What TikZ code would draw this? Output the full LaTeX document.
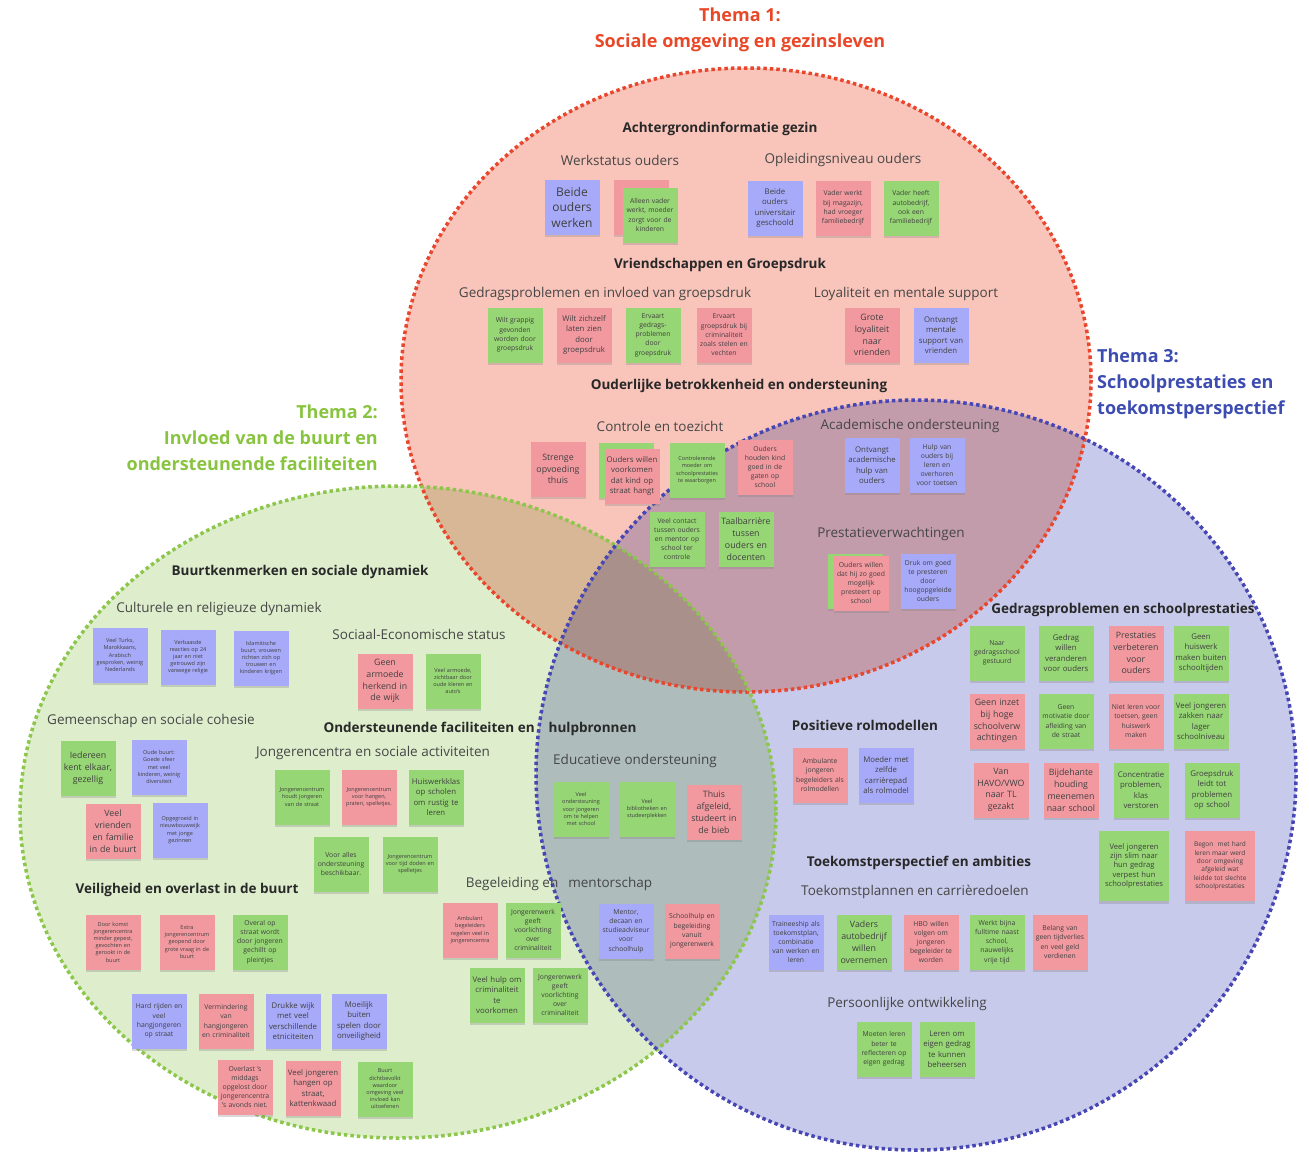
\documentclass[tikz,border=0pt]{standalone}
\usepackage{fontspec}
\setmainfont{Open Sans}
\usetikzlibrary{shadows}
\definecolor{nb}{RGB}{166,170,248}
\definecolor{np}{RGB}{242,153,160}
\definecolor{ng}{RGB}{150,214,116}
\definecolor{notetxt}{RGB}{64,64,64}
\definecolor{headc}{RGB}{40,40,40}
\definecolor{subc}{RGB}{70,70,70}
\definecolor{thafill}{RGB}{249,197,187}
\definecolor{thbfill}{RGB}{222,238,205}
\definecolor{thcfill}{RGB}{200,202,235}
\definecolor{thaline}{RGB}{232,70,45}
\definecolor{thbline}{RGB}{140,198,75}
\definecolor{thcline}{RGB}{70,70,180}
\definecolor{thatxt}{RGB}{232,72,40}
\definecolor{thbtxt}{RGB}{136,196,64}
\definecolor{thctxt}{RGB}{60,76,176}
\newcommand\ftny{\fontsize{5.5}{7.2}\selectfont}
\newcommand\fsml{\fontsize{6.8}{9.2}\selectfont}
\newcommand\fmed{\fontsize{7.8}{10.5}\selectfont}
\newcommand\fmid{\fontsize{8.8}{11.8}\selectfont}
\newcommand\fbig{\fontsize{12}{15.5}\selectfont}
\newcommand\fwid{\fontsize{7.6}{9.2}\selectfont}
\newcommand\fwtn{\fontsize{6.5}{8.4}\selectfont}
\begin{document}
\begin{tikzpicture}[x=1pt, y=-1pt,
    note/.style={minimum width=55pt, minimum height=55pt, text width=51pt, inner sep=0pt,
        align=center, text=notetxt,
        drop shadow={shadow xshift=0pt, shadow yshift=-2.5pt, opacity=.3}},
    bignote/.style={note, minimum width=70pt, minimum height=70pt, text width=66pt},
    rim/.style={line width=3.5pt, dash pattern=on 3.5pt off 3pt},
    head/.style={font=\bfseries\fontsize{13.5}{16}\selectfont, text=headc, inner sep=0pt},
    sub/.style={font=\fontsize{13.5}{16}\selectfont, text=subc, inner sep=0pt},
    theme/.style={font=\bfseries\fontsize{18}{26}\selectfont, inner sep=0pt}]
\useasboundingbox (0,0) rectangle (1309,1164);

\begin{scope}[blend group=multiply]
    \fill[thafill] (746,380) ellipse [x radius=345, y radius=312];
    \fill[thbfill] (398,812) ellipse [x radius=378, y radius=326];
    \fill[thcfill] (916,775) ellipse [x radius=380, y radius=375];
\end{scope}
\draw[rim, thaline] (746,380) ellipse [x radius=345, y radius=312];
\draw[rim, thbline] (398,812) ellipse [x radius=378, y radius=326];
\draw[rim, thcline] (916,775) ellipse [x radius=380, y radius=375];

\node (tha) at (740,30) [theme, text=thatxt, align=center] {Thema 1:\\Sociale omgeving en gezinsleven};
\node (thb) at (378,438) [theme, text=thbtxt, align=right, anchor=east] {Thema 2:\\Invloed van de buurt en\\ondersteunende faciliteiten};
\node (thc) at (1097,384) [theme, text=thctxt, align=left, anchor=west] {Thema 3:\\Schoolprestaties en\\toekomstperspectief};

\foreach \i/\x/\y/\t in {
    hag/720/129/{Achtergrondinformatie gezin},
    hvg/720/265/{Vriendschappen en Groepsdruk},
    hob/739/386/{Ouderlijke betrokkenheid en ondersteuning},
    hbs/300/572/{Buurtkenmerken en sociale dynamiek},
    hof/480/729/{Ondersteunende faciliteiten en\hspace{14pt}hulpbronnen},
    hvo/187/890/{Veiligheid en overlast in de buurt},
    hpr/865/725/{Positieve rolmodellen},
    hgs/1123/610/{Gedragsproblemen en schoolprestaties},
    hta/919/863/{Toekomstperspectief en ambities}}
{
    \node (\i) at (\x,\y) [head] {\t};
}
\foreach \i/\x/\y/\t in {
    sws/620/160/{Werkstatus ouders},
    son/843/160/{Opleidingsniveau ouders},
    sgi/605/294/{Gedragsproblemen en invloed van groepsdruk},
    slm/906/294/{Loyaliteit en mentale support},
    sct/660/426/{Controle en toezicht},
    sao/910/426/{Academische ondersteuning},
    spv/891/534/{Prestatieverwachtingen},
    scr/219/609/{Culturele en religieuze dynamiek},
    sse/419/634/{Sociaal-Economische status},
    sgs/151/721/{Gemeenschap en sociale cohesie},
    sjc/373/753/{Jongerencentra en sociale activiteiten},
    seo/635/761/{Educatieve ondersteuning},
    sbm/559/884/{Begeleiding en\hspace{10pt}mentorschap},
    stp/915/892/{Toekomstplannen en carrièredoelen},
    spo/907/1004/{Persoonlijke ontwikkeling}}
{
    \node (\i) at (\x,\y) [sub] {\t};
}

\node (ws2) at (641,207) [note, fill=np] {};
\node (ct2b) at (626,470) [note, fill=ng] {};
\node (pv1b) at (855,581) [note, fill=ng] {};

\foreach \i/\x/\y/\c/\f/\t in {
    ws1/572/207/nb/\fbig/{Beide\\ouders\\werken},
    ws3/650/215/ng/\fsml/{Alleen vader\\werkt, moeder\\zorgt voor de\\kinderen},
    on1/775/208/nb/\fmed/{Beide\\ouders\\universitair\\geschoold},
    on2/843/208/np/\fsml/{Vader werkt\\bij magazijn,\\had vroeger\\familiebedrijf},
    on3/911/208/ng/\fsml/{Vader heeft\\autobedrijf,\\ook een\\familiebedrijf},
    gp1/515/335/ng/\fsml/{Wilt grappig\\gevonden\\worden door\\groepsdruk},
    gp2/584/335/np/\fmed/{Wilt zichzelf\\laten zien\\door\\groepsdruk},
    gp3/653/335/ng/\fsml/{Ervaart\\gedrags-\\problemen\\door\\groepsdruk},
    gp4/724/335/np/\fsml/{Ervaart\\groepsdruk bij\\criminaliteit\\zoals stelen en\\vechten},
    lm1/872/335/np/\fmid/{Grote\\loyaliteit\\naar\\vrienden},
    lm2/941/335/nb/\fmed/{Ontvangt\\mentale\\support van\\vrienden},
    ct1/558/469/np/\fmid/{Strenge\\opvoeding\\thuis},
    ct2/632/476/np/\fmed/{Ouders willen\\voorkomen\\dat kind op\\straat hangt},
    ct3/697/470/ng/\ftny/{Controlerende\\moeder om\\schoolprestaties\\te waarborgen},
    ct4/765/467/np/\fsml/{Ouders\\houden kind\\goed in de\\gaten op\\school},
    ct5/677/539/ng/\fsml/{Veel contact\\tussen ouders\\en mentor op\\school ter\\controle},
    ct6/746/539/ng/\fmid/{Taalbarrière\\tussen\\ouders en\\docenten},
    ao1/872/465/nb/\fmed/{Ontvangt\\academische\\hulp van\\ouders},
    ao2/937/465/nb/\fsml/{Hulp van\\ouders bij\\leren en\\overhoren\\voor toetsen},
    pv1/861/583/np/\fsml/{Ouders willen\\dat hij zo goed\\mogelijk\\presteert op\\school},
    pv2/928/581/nb/\fsml/{Druk om goed\\te presteren\\door\\hoogopgeleide\\ouders}}
{
    \node (\i) at (\x,\y) [note, fill=\c, font=\f] {\t};
}

\foreach \i/\x/\y/\c/\f/\t in {
    cr1/120/655/nb/\ftny/{Veel Turks,\\Marokkaans,\\Arabisch\\gesproken, weinig\\Nederlands},
    cr2/188/657/nb/\ftny/{Verbaasde\\reacties op 24\\jaar en niet\\getrouwd zijn\\vanwege religie},
    cr3/261/658/nb/\ftny/{Islamitische\\buurt, vrouwen\\richten zich op\\trouwen en\\kinderen krijgen},
    se1/385/681/np/\fmid/{Geen\\armoede\\herkend in\\de wijk},
    se2/453/681/ng/\ftny/{Veel armoede,\\zichtbaar door\\oude kleren en\\auto's},
    gs1/88/768/ng/\fmid/{Iedereen\\kent elkaar,\\gezellig},
    gs2/159/767/nb/\ftny/{Oude buurt:\\Goede sfeer\\met veel\\kinderen, weinig\\diversiteit},
    gs3/113/831/np/\fmid/{Veel\\vrienden\\en familie\\in de buurt},
    gs4/180/830/nb/\ftny/{Opgegroeid in\\nieuwbouwwijk\\met jonge\\gezinnen},
    jc1/302/797/ng/\ftny/{Jongerencentrum\\houdt jongeren\\van de straat},
    jc2/369/797/np/\ftny/{Jongerencentrum\\voor hangen,\\praten, spelletjes.},
    jc3/436/797/ng/\fmed/{Huiswerkklas\\op scholen\\om rustig te\\leren},
    jc4/341/864/ng/\fsml/{Voor alles\\ondersteuning\\beschikbaar.},
    jc5/410/864/ng/\ftny/{Jongerencentrum\\voor tijd doden en\\spelletjes},
    eo1/581/809/ng/\ftny/{Veel\\ondersteuning\\voor jongeren\\om te helpen\\met school},
    eo2/647/809/ng/\ftny/{Veel\\bibliotheken en\\studeerplekken},
    eo3/714/812/np/\fmid/{Thuis\\afgeleid,\\studeert in\\de bieb},
    vo1/113/942/np/\ftny/{Door komst\\jongerencentra\\minder gepest,\\gevochten en\\gerookt in de\\buurt},
    vo2/187/942/np/\ftny/{Extra\\jongerencentrum\\geopend door\\grote vraag in de\\buurt},
    vo3/260/942/ng/\fsml/{Overal op\\straat wordt\\door jongeren\\gechillt op\\pleintjes},
    vo4/159/1021/nb/\fsml/{Hard rijden en\\veel\\hangjongeren\\op straat},
    vo5/226/1021/np/\fsml/{Vermindering\\van\\hangjongeren\\en criminaliteit},
    vo6/293/1021/nb/\fmed/{Drukke wijk\\met veel\\verschillende\\etniciteiten},
    vo7/359/1021/nb/\fmed/{Moeilijk\\buiten\\spelen door\\onveiligheid},
    vo8/245/1087/np/\fsml/{Overlast 's\\middags\\opgelost door\\jongerencentra\\'s avonds niet.},
    vo9/313/1088/np/\fmed/{Veel jongeren\\hangen op\\straat,\\kattenkwaad},
    vo10/385/1089/ng/\ftny/{Buurt\\dichtbevolkt\\waardoor\\omgeving veel\\invloed kan\\uitoefenen},
    bm1/470/930/np/\ftny/{Ambulant\\begeleiders\\regelen veel in\\jongerencentra},
    bm2/533/930/ng/\fsml/{Jongerenwerk\\geeft\\voorlichting\\over\\criminaliteit},
    bm3/497/995/ng/\fmed/{Veel hulp om\\criminaliteit\\te\\voorkomen},
    bm4/560/995/ng/\fsml/{Jongerenwerk\\geeft\\voorlichting\\over\\criminaliteit},
    bm5/626/931/nb/\fsml/{Mentor,\\decaan en\\studieadviseur\\voor\\schoolhulp},
    bm6/692/931/np/\fsml/{Schoolhulp en\\begeleiding\\vanuit\\jongerenwerk}}
{
    \node (\i) at (\x,\y) [note, fill=\c, font=\f] {\t};
}

\foreach \i/\x/\y/\c/\f/\t in {
    rm1/820/775/np/\fsml/{Ambulante\\jongeren\\begeleiders als\\rolmodellen},
    rm2/886/775/nb/\fmed/{Moeder met\\zelfde\\carrièrepad\\als rolmodel},
    sp1/997/653/ng/\fsml/{Naar\\gedragsschool\\gestuurd},
    sp2/1066/653/ng/\fmed/{Gedrag\\willen\\veranderen\\voor ouders},
    sp3/1136/653/np/\fmid/{Prestaties\\verbeteren\\voor\\ouders},
    sp4/1201/653/ng/\fmed/{Geen\\huiswerk\\maken buiten\\schooltijden},
    sp5/997/721/np/\fmid/{Geen inzet\\bij hoge\\schoolverw\\achtingen},
    sp6/1066/721/ng/\fsml/{Geen\\motivatie door\\afleiding van\\de straat},
    sp7/1136/721/np/\fsml/{Niet leren voor\\toetsen, geen\\huiswerk\\maken},
    sp8/1201/721/ng/\fmed/{Veel jongeren\\zakken naar\\lager\\schoolniveau},
    sp9/1001/790/np/\fmid/{Van\\HAVO\slash VWO\\naar TL\\gezakt},
    sp10/1071/790/np/\fmid/{Bijdehante\\houding\\meenemen\\naar school},
    sp11/1141/790/ng/\fmed/{Concentratie\\problemen,\\klas\\verstoren},
    sp12/1212/790/ng/\fmed/{Groepsdruk\\leidt tot\\problemen\\op school},
    tp1/796/942/nb/\fsml/{Traineeship als\\toekomstplan,\\combinatie\\van werken en\\leren},
    tp2/864/942/ng/\fmid/{Vaders\\autobedrijf\\willen\\overnemen},
    tp3/931/942/np/\fsml/{HBO willen\\volgen om\\jongeren\\begeleider te\\worden},
    tp4/997/942/ng/\fsml/{Werkt bijna\\fulltime naast\\school,\\nauwelijks\\vrije tijd},
    tp5/1060/942/np/\fsml/{Belang van\\geen tijdverlies\\en veel geld\\verdienen},
    po1/884/1049/ng/\fsml/{Moeten leren\\beter te\\reflecteren op\\eigen gedrag},
    po2/947/1049/ng/\fmed/{Leren om\\eigen gedrag\\te kunnen\\beheersen}}
{
    \node (\i) at (\x,\y) [note, fill=\c, font=\f] {\t};
}
\node (sp13) at (1134,866) [bignote, fill=ng, font=\fwid] {Veel jongeren\\zijn slim naar\\hun gedrag\\verpest hun\\schoolprestaties};
\node (sp14) at (1220,866) [bignote, fill=np, font=\fwtn] {Begon\ \ met hard\\leren maar werd\\door omgeving\\afgeleid wat\\leidde tot slechte\\schoolprestaties};
\end{tikzpicture}
\end{document}
